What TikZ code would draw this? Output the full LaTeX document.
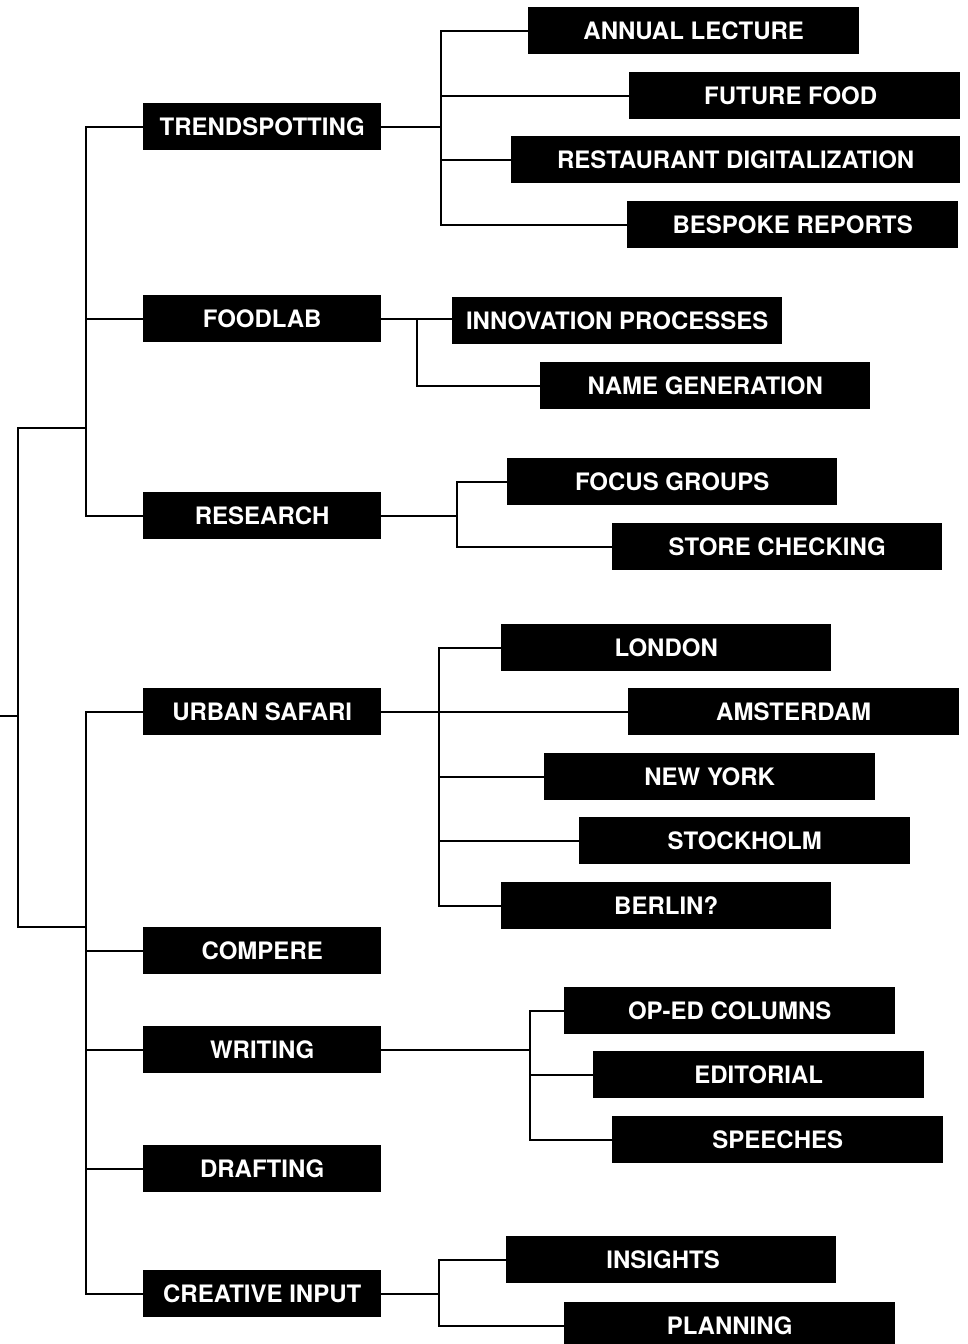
\documentclass[tikz,border=0pt]{standalone}
\usepackage{fontspec}
\setmainfont{TeX Gyre Heros}
\tikzset{
  box/.style={fill=black, text=white, inner sep=0pt, minimum height=47pt,
    text height=17.2pt, text depth=0pt, anchor=north west,
    font=\fontsize{24}{28}\selectfont\bfseries},
  conn/.style={draw=black, line width=2.3pt}
}
\newcommand\bx[5]{\node[box, minimum width=#4pt] (#1) at (#2,-#3) {#5};}
\begin{document}
\begin{tikzpicture}[x=1pt,y=1pt]
\clip (0,0) rectangle (968,-1344);
\fill[white] (0,0) rectangle (968,-1344);
% level 1
\bx{ts}{143}{103}{238}{TRENDSPOTTING}
\bx{fl}{143}{295}{238}{FOODLAB}
\bx{rs}{143}{492}{238}{RESEARCH}
\bx{us}{143}{688}{238}{URBAN SAFARI}
\bx{cp}{143}{927}{238}{COMPERE}
\bx{wr}{143}{1026}{238}{WRITING}
\bx{dr}{143}{1145}{238}{DRAFTING}
\bx{ci}{143}{1270}{238}{CREATIVE INPUT}
% level 2
\bx{al}{528}{7}{331}{ANNUAL LECTURE}
\bx{ff}{629}{72}{331}{FUTURE FOOD\hspace*{8pt}}
\bx{rd}{511}{136}{449}{RESTAURANT DIGITALIZATION}
\bx{br}{627}{201}{331}{BESPOKE REPORTS}
\bx{ip}{452}{297}{330}{INNOVATION PROCESSES}
\bx{ng}{540}{362}{330}{NAME GENERATION}
\bx{fg}{507}{458}{330}{FOCUS GROUPS}
\bx{sc}{612}{523}{330}{STORE CHECKING}
\bx{lo}{501}{624}{330}{LONDON}
\bx{am}{628}{688}{331}{AMSTERDAM}
\bx{ny}{544}{753}{331}{NEW YORK}
\bx{st}{579}{817}{331}{STOCKHOLM}
\bx{be}{501}{882}{330}{BERLIN?}
\bx{oe}{564}{987}{331}{OP-ED COLUMNS}
\bx{ed}{593}{1051}{331}{EDITORIAL}
\bx{sp}{612}{1116}{331}{SPEECHES}
\bx{in}{506}{1236}{330}{INSIGHTS\hspace*{16pt}}
\bx{pl}{564}{1302}{331}{PLANNING}
% bus coordinates
\coordinate (rin) at (0,-716);
\coordinate (r) at (18,-716);
\coordinate (rtop) at (18,-428);
\coordinate (rbot) at (18,-927);
\coordinate (s1) at (86,-428);
\coordinate (s2) at (86,-927);
\coordinate (tsb) at (441,0);
\coordinate (flb) at (417,0);
\coordinate (rsb) at (457,0);
\coordinate (usb) at (439,0);
\coordinate (wrb) at (530,0);
\coordinate (cib) at (439,0);
% root
\draw[conn] (rin) -- (r);
\draw[conn] (s1) -- (rtop) -- (rbot) -- (s2);
% upper spine
\draw[conn] (ts.west) -- (ts.west -| s1) -- (rs.west -| s1) -- (rs.west);
\draw[conn] (fl.west) -- (fl.west -| s1);
% lower spine
\draw[conn] (us.west) -- (us.west -| s2) -- (ci.west -| s2) -- (ci.west);
\draw[conn] (cp.west) -- (cp.west -| s2);
\draw[conn] (wr.west) -- (wr.west -| s2);
\draw[conn] (dr.west) -- (dr.west -| s2);
% trendspotting
\draw[conn] (ts.east) -- (ts.east -| tsb);
\draw[conn] (al.west) -- (al.west -| tsb) -- (br.west -| tsb) -- (br.west);
\draw[conn] (ff.west) -- (ff.west -| tsb);
\draw[conn] (rd.west) -- (rd.west -| tsb);
% foodlab
\draw[conn] (fl.east) -- (fl.east -| ip.west);
\draw[conn] (fl.east -| flb) -- (ng.west -| flb) -- (ng.west);
% research
\draw[conn] (rs.east) -- (rs.east -| rsb);
\draw[conn] (fg.west) -- (fg.west -| rsb) -- (sc.west -| rsb) -- (sc.west);
% urban safari
\draw[conn] (us.east) -- (am.west);
\draw[conn] (lo.west) -- (lo.west -| usb) -- (be.west -| usb) -- (be.west);
\draw[conn] (ny.west) -- (ny.west -| usb);
\draw[conn] (st.west) -- (st.west -| usb);
% writing
\draw[conn] (wr.east) -- (wr.east -| wrb);
\draw[conn] (oe.west) -- (oe.west -| wrb) -- (sp.west -| wrb) -- (sp.west);
\draw[conn] (ed.west) -- (ed.west -| wrb);
% creative input
\draw[conn] (ci.east) -- (ci.east -| cib);
\draw[conn] (in.west) -- (in.west -| cib) -- (pl.west -| cib) -- (pl.west);
\end{tikzpicture}
\end{document}
